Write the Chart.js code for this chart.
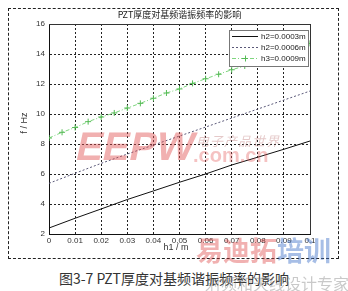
<!DOCTYPE html>
<html>
<head>
<meta charset="utf-8">
<script src="https://cdn.jsdelivr.net/npm/chart.js@4"></script>
<style>
  html, body { margin: 0; padding: 0; background: #fff; }
  body { width: 348px; height: 291px; position: relative; overflow: hidden; }
  #frame { position: absolute; left: 8px; top: 8px; width: 329px; height: 249px; border: 1px dashed #222; }
  #box { position: absolute; left: 0; top: 0; width: 348px; height: 260px; }
  #caption { position: absolute; left: 0; top: 268px; width: 348px; text-align: center;
    font: 14px "Noto Sans CJK SC", sans-serif; color: #333; line-height: 20px; }
  .wm { position: absolute; white-space: nowrap; pointer-events: none; }
</style>
</head>
<body>
<div id="frame"></div>
<div id="box"><canvas id="chart"></canvas></div>
<div id="caption">图3-7 PZT厚度对基频谐振频率的影响</div>
<div class="wm" style="left:77px;top:124px;font:bold 40px 'Liberation Sans';color:rgba(225,80,80,0.45);transform:skewX(-12deg);">EEPW</div>
<div class="wm" style="left:196px;top:131px;font:italic 13px 'Noto Sans CJK SC';color:rgba(190,120,120,0.4);letter-spacing:1px;">电子产品世界</div>
<div class="wm" style="left:193px;top:144px;font:bold 20px 'Liberation Sans';color:rgba(225,80,80,0.35);">.com.cn</div>
<div class="wm" style="left:196px;top:230px;font:bold 27px 'Noto Sans CJK SC';color:rgba(220,60,60,0.4);">易迪拓<span style="color:rgba(60,110,200,0.45)">培训</span></div>
<div class="wm" style="left:205px;top:271px;font:16px 'Noto Sans CJK SC';color:rgba(120,120,120,0.4);">射频和天线设计专家</div>
<script>
// x 位置 (h1 / m)
const xCoarse = [0, 0.01, 0.02, 0.03, 0.04, 0.05, 0.06, 0.07, 0.08, 0.09, 0.1];
const xFine = [0, 0.005, 0.01, 0.015, 0.02, 0.025, 0.03, 0.035, 0.04, 0.045, 0.05,
  0.055, 0.06, 0.065, 0.07, 0.075, 0.08, 0.085, 0.09, 0.095, 0.1];

// 频率 f / Hz
const f03 = [2.4, 3.05, 3.67, 4.3, 4.87, 5.45, 6.0, 6.6, 7.12, 7.65, 8.2];
const f06 = [5.38, 6.05, 6.71, 7.33, 7.93, 8.53, 9.13, 9.73, 10.33, 10.93, 11.53];
const f09 = [8.4, 8.78, 9.1, 9.49, 9.8, 10.07, 10.4, 10.71, 11.05, 11.4, 11.67,
  12.04, 12.35, 12.65, 12.95, 13.2, 13.55, 13.85, 14.15, 14.45, 14.71];

const seriesNames = ['h2=0.0003m', 'h2=0.0006m', 'h3=0.0009m'];
const chartTitle = 'PZT厚度对基频谐振频率的影响';
const xTitle = 'h1 / m';
const yTitle = 'f / Hz';

const pts = (xs, ys) => xs.map((x, i) => ({ x: x, y: ys[i] }));
const latin = '"Liberation Sans", Arial, sans-serif';

// 标题、坐标框、轴标题、图例
const matlabPlugin = {
  id: 'matlab',
  afterDatasetsDraw(chart) {
    const c = chart.ctx;
    const a = chart.chartArea;
    c.save();
    c.strokeStyle = '#333';
    c.lineWidth = 1;
    c.beginPath();
    c.moveTo(a.left, a.top + 0.5);
    c.lineTo(a.right + 0.5, a.top + 0.5);
    c.lineTo(a.right + 0.5, a.bottom);
    c.stroke();

    c.fillStyle = '#222';
    c.font = '9px "Noto Sans CJK SC", sans-serif';
    c.textAlign = 'center';
    c.textBaseline = 'middle';
    c.fillText(chartTitle, (a.left + a.right) / 2, 15);

    c.fillStyle = '#333';
    c.font = '9px ' + latin;
    c.fillText(xTitle, 176, 248);
    c.save();
    c.translate(25, 123);
    c.rotate(-Math.PI / 2);
    c.fillText(yTitle, 0, 0);
    c.restore();

    // 图例
    const lx = 229, ly = 30, lw = 79, lh = 36;
    c.fillStyle = '#fff';
    c.fillRect(lx, ly, lw, lh);
    c.strokeStyle = '#777';
    c.strokeRect(lx + 0.5, ly + 0.5, lw, lh);
    c.font = '8px ' + latin;
    c.textAlign = 'left';
    chart.data.datasets.forEach((ds, i) => {
      const y = ly + 6 + i * 11;
      c.strokeStyle = ds.borderColor;
      c.lineWidth = 1;
      c.setLineDash(ds.borderDash || []);
      c.beginPath();
      c.moveTo(lx + 3, y + 0.5);
      c.lineTo(lx + 29, y + 0.5);
      c.stroke();
      c.setLineDash([]);
      if (ds.pointRadius) {
        c.strokeStyle = ds.pointBorderColor;
        c.beginPath();
        c.moveTo(lx + 16 - 3, y + 0.5);
        c.lineTo(lx + 16 + 3, y + 0.5);
        c.moveTo(lx + 16.5, y - 2.5);
        c.lineTo(lx + 16.5, y + 3.5);
        c.stroke();
      }
      c.fillStyle = '#222';
      c.fillText(ds.label, lx + 32, y + 1);
    });
    c.restore();
  }
};

const tickFont = { family: latin, size: 8 };

new Chart(document.getElementById('chart'), {
  type: 'line',
  data: {
    datasets: [
      { label: seriesNames[0], data: pts(xCoarse, f03), borderColor: '#111', borderWidth: 1, pointRadius: 0 },
      { label: seriesNames[1], data: pts(xCoarse, f06), borderColor: '#5a5878', borderWidth: 1, borderDash: [2, 2], pointRadius: 0 },
      {
        label: seriesNames[2], data: pts(xFine, f09), borderColor: '#7fd67f', borderWidth: 1,
        borderDash: [4, 2, 1, 2], pointStyle: 'cross', pointRadius: 3, pointBorderColor: '#55bb55', pointBorderWidth: 1,
      },
    ],
  },
  options: {
    responsive: true,
    maintainAspectRatio: false,
    animation: false,
    layout: { padding: { left: 0, right: 38, top: 24, bottom: 0 } },
    plugins: { legend: { display: false }, title: { display: false }, tooltip: { enabled: false } },
    scales: {
      x: {
        type: 'linear', min: 0, max: 0.1,
        afterFit: s => { s.height = 26; },
        ticks: { stepSize: 0.01, padding: 2, color: '#333', font: tickFont, maxRotation: 0,
          callback: v => String(parseFloat(v.toFixed(2))) },
        grid: { color: '#222', drawTicks: false },
        border: { color: '#111', dash: [2, 2] },
      },
      y: {
        min: 2, max: 16,
        afterFit: s => { s.width = 49; },
        ticks: { stepSize: 2, padding: 4, color: '#333', font: tickFont },
        grid: { color: '#222', drawTicks: false },
        border: { color: '#111', dash: [2, 2] },
      },
    },
  },
  plugins: [matlabPlugin],
});
</script>
</body>
</html>
